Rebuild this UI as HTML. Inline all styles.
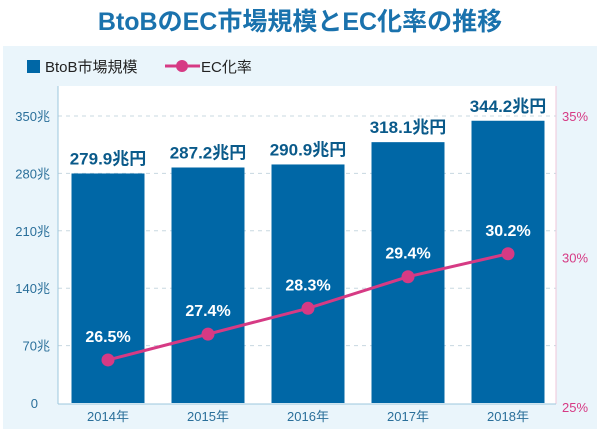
<!DOCTYPE html>
<html><head><meta charset="utf-8"><style>
body{margin:0;width:600px;height:431px;background:#fff;overflow:hidden;font-family:"Liberation Sans","Noto Sans CJK JP",sans-serif}
</style></head><body>
<svg width="600" height="431" font-family="Liberation Sans, Noto Sans CJK JP, sans-serif">
<text x="300" y="30" text-anchor="middle" font-size="25" font-weight="bold" fill="#1a72ad">BtoBのEC市場規模とEC化率の推移</text>
<rect x="3" y="46" width="594" height="383" fill="#eaf5fb"/>
<rect x="58" y="86" width="498" height="318" fill="#fff"/>
<g>
<rect x="27" y="60" width="13" height="13" fill="#0067a6"/>
<text x="45" y="72" font-size="15" fill="#222">BtoB市場規模</text>
<line x1="165" y1="66" x2="200" y2="66" stroke="#d63a84" stroke-width="3"/>
<circle cx="182" cy="66" r="6" fill="#d63a84"/>
<text x="201" y="72" font-size="15" fill="#222">EC化率</text>
</g>
<g id="grid"></g><g id="bars"></g><g id="line"></g><g id="labels"></g>
<line x1="58" y1="86" x2="58" y2="404" stroke="#9cc7de"/>
<line x1="556" y1="86" x2="556" y2="404" stroke="#f0c6d8"/>
<line x1="58" y1="404" x2="556" y2="404" stroke="#9cc7de"/>
</svg>
<script>
const categories=["2014年","2015年","2016年","2017年","2018年"];
const marketValues=[279.9,287.2,290.9,318.1,344.2];
const ecRates=[26.5,27.4,28.3,29.4,30.2];
const leftTicks=[0,70,140,210,280,350];
const rightTicks=[25,30,35];
const NS="http://www.w3.org/2000/svg";
const y0=403, yPer=(403-116)/350;
const yL=v=>y0-v*yPer;
const yR=p=>y0-(p-25)*(403-116)/10;
const xC=i=>108+i*100;
function mk(tag,attrs,parent,txt){const e=document.createElementNS(NS,tag);for(const k in attrs)e.setAttribute(k,attrs[k]);if(txt!==undefined)e.textContent=txt;document.getElementById(parent).appendChild(e);return e;}
leftTicks.forEach(t=>{
 if(t>0){const g=mk('line',{x1:58,x2:556,y1:yL(t),y2:yL(t),stroke:'#c8d8e0','stroke-dasharray':'4 4'},'grid');
 
 }
 const l=mk('text',{x:t===0?32:50,y:yL(t)+5,'text-anchor':'end','font-size':13,fill:'#2a6f9a'},'grid',t===0?'0':t+'兆');
 if(t===0)l.setAttribute('x',38);
 
 
});
rightTicks.forEach(t=>{
 const l=mk('text',{x:562,y:yR(t)+(t===25?9:t===35?5:3),'font-size':13,fill:'#d63a84'},'grid',t+'%');
 
 
});
categories.forEach((c,i)=>{
 const b=mk('rect',{x:xC(i)-36.5,y:yL(marketValues[i]),width:73,height:y0-yL(marketValues[i]),fill:'#0067a6'},'bars');
 
 
 const v=mk('text',{x:xC(i),y:yL(marketValues[i])-9,'text-anchor':'middle','font-size':17,'font-weight':'bold',fill:'#0a5a8a'},'labels',marketValues[i].toFixed(1)+'兆円');
 
 
 const x=mk('text',{x:xC(i),y:421,'text-anchor':'middle','font-size':13,fill:'#2a6f9a'},'labels',c);
 
 
 const p=mk('text',{x:xC(i),y:yR(ecRates[i])-18,'text-anchor':'middle','font-size':16,'font-weight':'bold',fill:'#fff'},'labels',ecRates[i].toFixed(1)+'%');
 
 
});
const pl=mk('polyline',{points:ecRates.map((r,i)=>xC(i)+','+yR(r)).join(' '),fill:'none',stroke:'#d63a84','stroke-width':3},'line');


ecRates.forEach((r,i)=>{
 const c=mk('circle',{cx:xC(i),cy:yR(r),r:6.5,fill:'#d63a84'},'line');
 
 
});
</script>
</body></html>
